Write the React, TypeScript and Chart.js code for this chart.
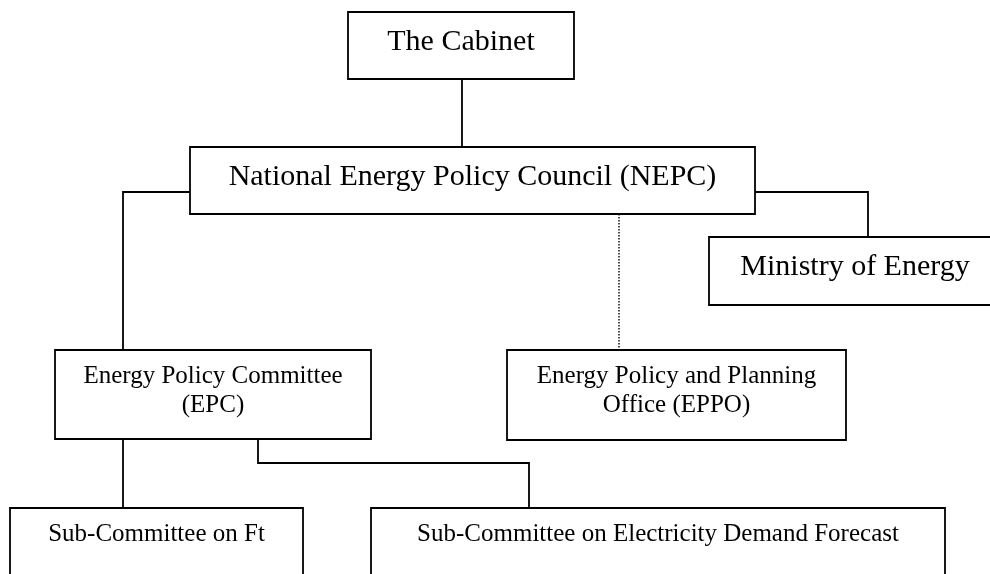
import React, { useEffect, useRef } from "react";
import { Chart, registerables } from "chart.js";

Chart.register(...registerables);

// Organisation units (labels split into lines)
const nodeLabels: string[][] = [
  ["The Cabinet"],
  ["National Energy Policy Council (NEPC)"],
  ["Ministry of Energy"],
  ["Energy Policy Committee", "(EPC)"],
  ["Energy Policy and Planning", "Office (EPPO)"],
  ["Sub-Committee on Ft"],
  ["Sub-Committee on Electricity Demand Forecast"],
];
// Box extents in diagram units
const nodeLeft = [348, 190, 709, 55, 507, 10, 371];
const nodeRight = [574, 755, 1001, 371, 846, 303, 945];
const nodeTop = [12, 147, 237, 350, 350, 508, 508];
const nodeBottom = [79, 214, 305, 439, 440, 600, 600];
const nodeFontSize = [30, 30, 30, 25, 25, 25, 25];

// Solid reporting lines (polylines, x / y lists)
const solidLinksX: number[][] = [
  [462, 462],
  [190, 123, 123],
  [755, 868, 868],
  [123, 123],
  [258, 258, 529, 529],
];
const solidLinksY: number[][] = [
  [79, 147],
  [192, 192, 350],
  [192, 192, 237],
  [439, 508],
  [439, 463, 463, 508],
];
// Dotted (advisory) line
const dottedLinkX = [619, 619];
const dottedLinkY = [214, 350];

const X_MAX = 990;
const Y_MAX = 574;

export default function App() {
  const ref = useRef<HTMLCanvasElement | null>(null);

  useEffect(() => {
    if (!ref.current) return;
    const datasets: any[] = [];
    nodeLabels.forEach((_, i) => {
      const l = nodeLeft[i], r = nodeRight[i], t = nodeTop[i], b = nodeBottom[i];
      datasets.push({
        data: [
          { x: l, y: t },
          { x: r, y: t },
          { x: r, y: b },
          { x: l, y: b },
          { x: l, y: t },
        ],
        showLine: true,
        borderColor: "#000",
        borderWidth: 1.8,
        borderCapStyle: "square",
        borderJoinStyle: "miter",
        pointRadius: 0,
        fill: false,
        tension: 0,
      });
    });
    solidLinksX.forEach((xs, i) => {
      datasets.push({
        data: xs.map((x, j) => ({ x, y: solidLinksY[i][j] })),
        showLine: true,
        borderColor: "#000",
        borderWidth: 1.8,
        borderJoinStyle: "miter",
        pointRadius: 0,
        fill: false,
        tension: 0,
      });
    });
    datasets.push({
      data: dottedLinkX.map((x, j) => ({ x, y: dottedLinkY[j] })),
      showLine: true,
      borderColor: "#000",
      borderWidth: 1.4,
      borderDash: [1.5, 1.5],
      pointRadius: 0,
      fill: false,
      tension: 0,
    });

    const labelPlugin = {
      id: "nodeLabels",
      afterDatasetsDraw(chart: any) {
        const ctx = chart.ctx;
        const xs = chart.scales.x;
        const ys = chart.scales.y;
        ctx.save();
        ctx.fillStyle = "#000";
        ctx.textAlign = "center";
        ctx.textBaseline = "alphabetic";
        nodeLabels.forEach((lines, i) => {
          const size = nodeFontSize[i];
          ctx.font = `${size}px "Liberation Serif", "Times New Roman", serif`;
          const cx = (xs.getPixelForValue(nodeLeft[i]) + xs.getPixelForValue(nodeRight[i])) / 2;
          const top = ys.getPixelForValue(nodeTop[i]);
          lines.forEach((line, k) => {
            ctx.fillText(line, cx, top + 7.5 + size + k * size * 1.18);
          });
        });
        ctx.restore();
      },
    };

    const chart = new Chart(ref.current, {
      type: "scatter",
      data: { datasets },
      options: {
        animation: false,
        responsive: false,
        maintainAspectRatio: false,
        layout: { padding: 0 },
        plugins: {
          legend: { display: false },
          tooltip: { enabled: false },
        },
        scales: {
          x: { type: "linear", min: 0, max: X_MAX, display: false },
          y: { type: "linear", min: 0, max: Y_MAX, reverse: true, display: false },
        },
      },
      plugins: [labelPlugin],
    });
    return () => chart.destroy();
  }, []);

  return (
    <div
      style={{
        position: "fixed",
        left: 0,
        top: 0,
        width: X_MAX,
        height: Y_MAX,
        background: "#fff",
      }}
    >
      <canvas ref={ref} width={X_MAX} height={Y_MAX} style={{ width: X_MAX, height: Y_MAX }} />
    </div>
  );
}
